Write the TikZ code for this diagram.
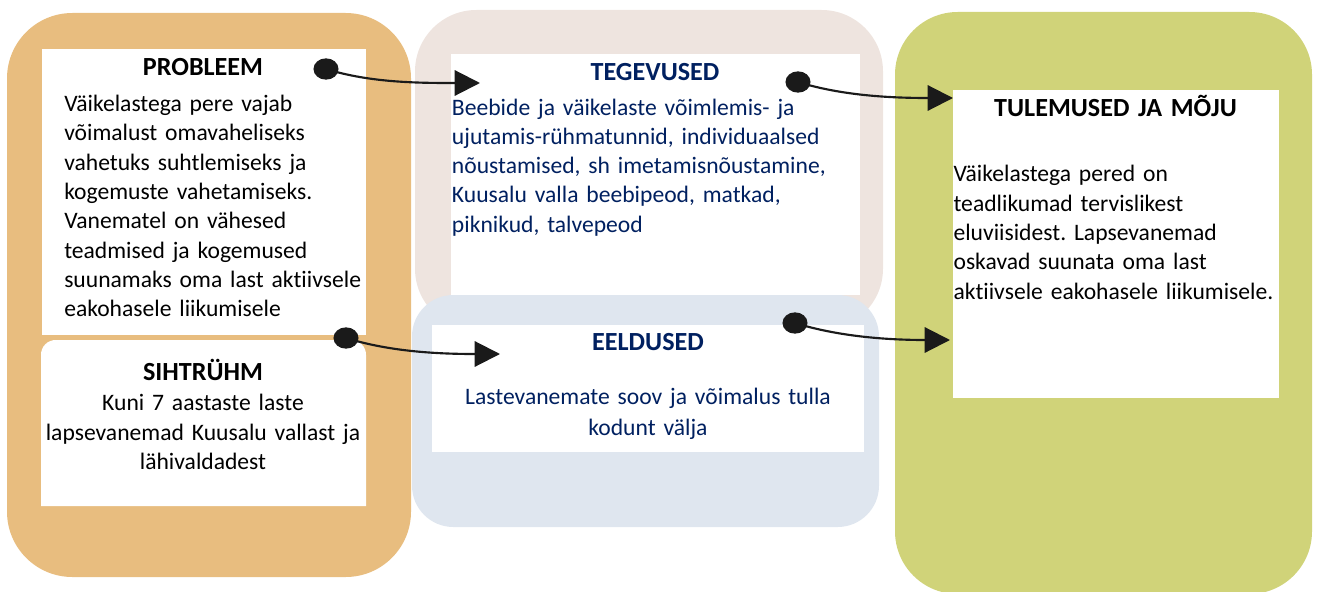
\documentclass[tikz,border=0pt]{standalone}
\usepackage{fontspec}
\setmainfont{Carlito}[Ligatures = NoCommon]
\frenchspacing
\usetikzlibrary{arrows.meta}
\definecolor{boxorange}{RGB}{232,189,127}
\definecolor{boxpink}{RGB}{238,228,223}
\definecolor{boxblue}{RGB}{223,230,239}
\definecolor{boxgreen}{RGB}{208,211,121}
\definecolor{navy}{RGB}{0,32,96}
\definecolor{ink}{RGB}{26,26,26}
\begin{document}
\begin{tikzpicture}[x = .75pt, y = -.75pt,
  txt/.style = {inner sep = 0, text width = #1,
    font = \fontsize{17.7}{22}\selectfont},
  head/.style = {txt = 300pt, align = center, anchor = base,
    font = \bfseries\fontsize{19.6}{22}\selectfont},
  link/.style = {draw = ink, line width = 1.6pt,
    -{Triangle[length = 19pt, width = 19pt]}},
  dot/.style = {fill = ink}]
  \useasboundingbox (0, 0) rectangle (1317, 592);
  % coloured panels
  \fill[boxorange, rounded corners = 49pt] (7, 13) rectangle (411, 577);
  \fill[boxpink, rounded corners = 46pt] (415, 10) rectangle (883, 330);
  \fill[boxblue, rounded corners = 31pt] (412, 295) rectangle (879, 527);
  \fill[boxgreen, rounded corners = 47pt] (895, 12) rectangle (1312, 594);
  % white boxes
  \fill[white] (42, 49) rectangle (366, 335);
  \fill[white, rounded corners = 11pt] (41, 506) -- (41, 340) -- (366, 340)
  -- (366, 506);
  \fill[white] (41, 420) rectangle (366, 506);
  \fill[white] (451, 54) rectangle (860, 295);
  \fill[white] (432, 325) rectangle (864, 452);
  \fill[white] (953, 90) rectangle (1279, 398);
  % texts
  \node[head] (probHead) at (203, 75) {PROBLEEM};
  \node[txt = 260pt, align = left, anchor = base west] (probText) at
  (64, 111.5) {Väikelastega pere vajab\\võimalust omavaheliseks\\vahetuks
  suhtlemiseks ja\\kogemuste vahetamiseks.\\Vanematel on vähesed\\teadmised
  ja kogemused\\suunamaks oma last aktiivsele\\eakohasele liikumisele};
  \node[head] (sihtHead) at (203, 380.7) {SIHTRÜHM};
  \node[txt = 300pt, align = center, anchor = base] (sihtText) at
  (203, 410.7) {Kuni 7 aastaste laste\\lapsevanemad Kuusalu vallast
  ja\\lähivaldadest};
  \node[head, text = navy] (tegHead) at (655, 80) {TEGEVUSED};
  \node[txt = 330pt, align = left, anchor = base west, text = navy]
  (tegText) at (451.7, 115) {Beebide ja väikelaste võimlemis- ja\\
  ujutamis-rühmatunnid, individuaalsed\\nõustamised, sh
  imetamisnõustamine,\\Kuusalu valla beebipeod, matkad,\\piknikud,
  talvepeod};
  \node[head, text = navy] (eelHead) at (648, 350.7) {EELDUSED};
  \node[txt = 330pt, align = center, anchor = base, text = navy,
  font = \fontsize{17.7}{23.3}\selectfont]
  (eelText) at (648, 404) {Lastevanemate soov ja võimalus tulla\\kodunt
  välja};
  \node[head] (tulHead) at (1115.5, 116.7) {TULEMUSED JA MÕJU};
  \node[txt = 250pt, align = left, anchor = base west] (tulText) at
  (953.3, 181.7) {Väikelastega pered on\\teadlikumad tervislikest\\eluviisidest.
  Lapsevanemad\\oskavad suunata oma last\\aktiivsele eakohasele
  liikumisele.};
  % connectors
  \coordinate (probDot) at (326, 69);
  \coordinate (tegIn) at (480, 83);
  \coordinate (tegDot) at (798, 82);
  \coordinate (tulIn) at (953, 98);
  \coordinate (sihtDot) at (346, 338);
  \coordinate (eelIn) at (500, 354);
  \coordinate (eelDot) at (795, 323);
  \coordinate (tulIn2) at (950, 340);
  \draw[link] (probDot) .. controls +(45, 14) and +(-60, 0) .. (tegIn);
  \draw[link] (tegDot) .. controls +(45, 14) and +(-60, 0) .. (tulIn);
  \draw[link] (sihtDot) .. controls +(45, 14) and +(-60, 0) .. (eelIn);
  \draw[link] (eelDot) .. controls +(45, 14) and +(-60, 0) .. (tulIn2);
  \foreach \d in {probDot, tegDot, sihtDot, eelDot}
    \fill[dot] (\d) ellipse[x radius = 9.4pt, y radius = 8pt];
\end{tikzpicture}
\end{document}
